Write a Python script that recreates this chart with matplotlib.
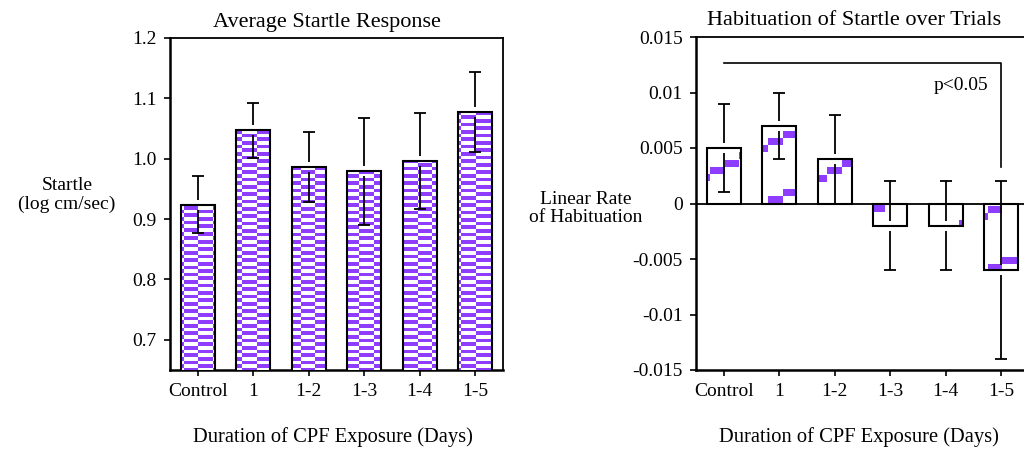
import numpy as np
import matplotlib.pyplot as plt

plt.rcParams['font.family'] = ['Liberation Serif', 'DejaVu Serif']

# data
groups = ['Control', '1', '1-2', '1-3', '1-4', '1-5']
startle_mean = [0.924, 1.047, 0.986, 0.979, 0.996, 1.077]
startle_err = [0.047, 0.046, 0.058, 0.089, 0.080, 0.066]
habit_mean = [0.005, 0.007, 0.004, -0.002, -0.002, -0.006]
habit_err = [0.004, 0.003, 0.004, 0.004, 0.004, 0.008]

startle_ticks = [0.7, 0.8, 0.9, 1.0, 1.1, 1.2]
startle_ticklabels = ['0.7', '0.8', '0.9', '1.0', '1.1', '1.2']
habit_ticks = [-0.015, -0.01, -0.005, 0, 0.005, 0.01, 0.015]
habit_ticklabels = ['-0.015', '-0.01', '-0.005', '0', '0.005', '0.01', '0.015']

# significance bracket (Control vs 1-5)
bracket_from, bracket_to = 0, 5
bracket_y, bracket_drop = 0.0127, 0.0033

FIG_W, FIG_H = 1024, 451
PURPLE = np.array([0.56, 0.24, 1.0])

fig = plt.figure(figsize=(FIG_W / 100, FIG_H / 100), dpi=100)
ax1 = fig.add_axes([170 / FIG_W, 1 - 370 / FIG_H, 333 / FIG_W, 332 / FIG_H])
ax2 = fig.add_axes([696 / FIG_W, 1 - 370 / FIG_H, 333 / FIG_W, 333 / FIG_H])


def pattern_image(ax, kind):
    # fill pattern laid out on the figure pixel grid, like the old plotting program
    bb = ax.bbox
    w, h = int(round(bb.width)), int(round(bb.height))
    px = bb.x0 + np.arange(w) + 0.5
    py = (FIG_H - bb.y1) + np.arange(h) + 0.5
    X, Y = np.meshgrid(px, py)
    k = np.floor((X - 710) / 14.62)
    if kind == 'checker':
        on = (np.floor((Y - 2.0) / 3.66) + k) % 2 == 0
    else:
        on = np.mod(Y - (168 - 7.25 * k), 58.5) < 7
    img = np.ones((h, w, 3))
    img[on] = PURPLE
    return img


def draw_panel(ax, means, errs, kind, ylim, ticks, ticklabels):
    x = np.arange(len(groups))
    m = np.array(means)
    e = np.array(errs)
    ax.set_xlim(-0.5, len(groups) - 0.5)
    ax.set_ylim(ylim)

    fills = ax.bar(x, m, width=0.61, color='white', edgecolor='none', zorder=2)
    img = pattern_image(ax, kind)
    for p in fills.patches:
        im = ax.imshow(img, extent=(-0.5, len(groups) - 0.5, ylim[0], ylim[1]),
                       origin='upper', interpolation='nearest', aspect='auto', zorder=3)
        im.set_clip_path(p)
    ax.bar(x, m, width=0.61, color='none', edgecolor='black', linewidth=1.5, zorder=4)
    ax.set_xlim(-0.5, len(groups) - 0.5)
    ax.set_ylim(ylim)

    # error bars broken around the bar edge
    gap = 5 * (ylim[1] - ylim[0]) / ax.bbox.height
    ax.vlines(x, m + gap, m + e, color='black', lw=1.3, zorder=5)
    ax.vlines(x, m - e, m - gap, color='black', lw=1.3, zorder=5)
    eb = ax.errorbar(x, m, yerr=e, fmt='none', ecolor='black', capsize=4.3,
                     capthick=1.3, zorder=5)
    eb[2][0].set_visible(False)

    ax.set_xticks(x)
    ax.set_xticklabels(groups)
    ax.set_yticks(ticks)
    ax.set_yticklabels(ticklabels)
    ax.tick_params(direction='out', length=4.5, width=1.2, labelsize=14, pad=5)
    for s in ['left', 'bottom']:
        ax.spines[s].set_linewidth(1.8)
    for s in ['top', 'right']:
        ax.spines[s].set_linewidth(1.3)


draw_panel(ax1, startle_mean, startle_err, 'checker', (0.65, 1.2),
           startle_ticks, startle_ticklabels)
draw_panel(ax2, habit_mean, habit_err, 'stairs', (-0.015, 0.015),
           habit_ticks, habit_ticklabels)

ax2.axhline(0, color='black', lw=1.3, zorder=4)
ax2.plot([bracket_from, bracket_to, bracket_to], [bracket_y, bracket_y, bracket_drop],
         color='black', lw=1.2, zorder=5)
ax2.text(4.76, 0.0106, 'p<0.05', ha='right', va='center', fontsize=14)

# titles and labels
ax1.text(0.47, 1.033, 'Average Startle Response', transform=ax1.transAxes,
         ha='center', va='baseline', fontsize=16)
ax2.text(0.475, 1.036, 'Habituation of Startle over Trials', transform=ax2.transAxes,
         ha='center', va='baseline', fontsize=16)

ax1.text(-0.309, 0.527, 'Startle\n(log cm/sec)', transform=ax1.transAxes,
         ha='center', va='center', fontsize=14, linespacing=1.1)
ax2.text(-0.33, 0.486, 'Linear Rate\nof Habituation', transform=ax2.transAxes,
         ha='center', va='center', fontsize=14, linespacing=1.1)

ax1.text(0.49, -0.202, 'Duration of CPF Exposure (Days)', transform=ax1.transAxes,
         ha='center', va='center', fontsize=14.8)
ax2.text(0.49, -0.2, 'Duration of CPF Exposure (Days)', transform=ax2.transAxes,
         ha='center', va='center', fontsize=14.8)

fig.savefig('out.png', dpi=100)
